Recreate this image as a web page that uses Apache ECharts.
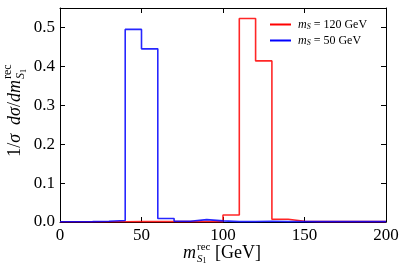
<!DOCTYPE html>
<html><head><meta charset="utf-8">
<script src="https://cdn.jsdelivr.net/npm/echarts@6/dist/echarts.min.js"></script>
<style>html,body{margin:0;padding:0;background:#fff}#c{width:408px;height:276px}</style>
</head><body><div id="c"></div>
<script>
// bin left edges (GeV), bin width 10
const binEdges = [0,10,20,30,40,50,60,70,80,90,100,110,120,130,140,150,160,170,180,190];
const histEnd = 200;
// m_S = 120 GeV (red)
const red120 = [0.0005,0.0005,0.0005,0.0008,0.001,0.001,0.001,0.001,0.001,0.001,0.018,0.523,0.414,0.007,0.002,0.001,0.001,0.001,0.001,0.001];
// m_S = 50 GeV (blue)
const blue50 = [0.0005,0.001,0.002,0.004,0.495,0.445,0.009,0.002,0.006,0.003,0.001,0.001,0.002,0.001,0.001,0.001,0.001,0.001,0.001,0.001];
const xTicks = [0,50,100,150,200];
const yTicks = [0.0,0.1,0.2,0.3,0.4,0.5];

function stepData(vals){
  const d = binEdges.map((e,i)=>[e, vals[i]]);
  d.push([histEnd, vals[vals.length-1]]);
  return d;
}
const FF = 'Liberation Serif';
const chart = echarts.init(document.getElementById('c'), null, {renderer:'canvas'});
const axCommon = {
  axisLine:{show:true, onZero:false, lineStyle:{color:'#000', width:1}},
  axisTick:{show:true, inside:true, length:5, lineStyle:{color:'#000'}},
  splitLine:{show:false}
};
chart.setOption({
  animation:false,
  textStyle:{fontFamily:FF},
  grid:{left:60, right:22, top:8, bottom:54},
  xAxis:[
    Object.assign({type:'value', min:xTicks[0], max:xTicks[xTicks.length-1], interval:50, position:'bottom',
      axisLabel:{color:'#000', fontFamily:FF, fontSize:17, margin:5}}, axCommon),
    Object.assign({type:'value', min:xTicks[0], max:xTicks[xTicks.length-1], interval:50, position:'top',
      axisLabel:{show:false}}, axCommon)
  ],
  yAxis:[
    Object.assign({type:'value', min:0, max:0.55, interval:0.1, position:'left',
      axisLabel:{color:'#000', fontFamily:FF, fontSize:17, margin:5, showMaxLabel:false,
        formatter:v=> (Math.abs(v-0.55)<1e-6 ? '' : v.toFixed(1))}}, axCommon),
    Object.assign({type:'value', min:0, max:0.55, interval:0.1, position:'right',
      axisLabel:{show:false}}, axCommon)
  ],
  legend:{
    orient:'vertical', left:270, top:18, padding:0, itemGap:3, itemWidth:21, itemHeight:2, icon:'rect',
    data:['ms120','ms50'],
    formatter: n => n==='ms120' ? '{i|m}{s|S}{t| = 120 GeV}' : '{i|m}{s|S}{t| = 50 GeV}',
    textStyle:{fontFamily:FF, color:'#000', fontSize:12, lineHeight:13, padding:[0,0,0,2],
      rich:{
        i:{fontStyle:'italic', fontSize:12, fontFamily:FF, lineHeight:13, verticalAlign:'middle'},
        s:{fontStyle:'italic', fontSize:8, fontFamily:FF, lineHeight:8, padding:[5,0,0,0]},
        t:{fontSize:12, fontFamily:FF, lineHeight:13}
      }}
  },
  series:[
    {name:'ms120', type:'line', step:'end', showSymbol:false, symbol:'none', data:stepData(red120),
      itemStyle:{color:'#ff0000'}, lineStyle:{color:'#ff0000', width:1.6, opacity:0.85}},
    {name:'ms50', type:'line', step:'end', showSymbol:false, symbol:'none', data:stepData(blue50),
      itemStyle:{color:'#0000ff'}, lineStyle:{color:'#0000ff', width:1.6, opacity:0.85}}
  ],
  graphic:[
    {type:'group', x:15, y:80, rotation:Math.PI/2, children:[
      {type:'text', x:0, y:0, style:{text:'{n|1/}{i|σ  d}{i|σ}{n|/}{i|dm}', align:'right', verticalAlign:'middle',
        fill:'#000', font:'18px '+FF,
        rich:{n:{fontSize:18, fontFamily:FF}, i:{fontSize:18, fontFamily:FF, fontStyle:'italic'}}}},
      {type:'text', x:1, y:-7, style:{text:'rec', align:'left', verticalAlign:'middle', fill:'#000', font:'12px '+FF}},
      {type:'text', x:1, y:6, style:{text:'{i|S}{n|1}', align:'left', verticalAlign:'middle', fill:'#000', font:'12px '+FF,
        rich:{i:{fontSize:12, fontStyle:'italic', fontFamily:FF}, n:{fontSize:8, fontFamily:FF, padding:[5,0,0,0]}}}}
    ]},
    {type:'text', x:196, y:253, style:{text:'m', align:'right', verticalAlign:'middle', fill:'#000', font:'italic 18px '+FF}},
    {type:'text', x:197, y:247, style:{text:'rec', align:'left', verticalAlign:'middle', fill:'#000', font:'11px '+FF}},
    {type:'text', x:197, y:259, style:{text:'{i|S}{n|1}', align:'left', verticalAlign:'middle', fill:'#000', font:'11px '+FF,
        rich:{i:{fontSize:11, fontStyle:'italic', fontFamily:FF}, n:{fontSize:8, fontFamily:FF, padding:[4,0,0,0]}}}},
    {type:'text', x:215, y:253, style:{text:'[GeV]', align:'left', verticalAlign:'middle', fill:'#000', font:'18px '+FF}}
  ]
});
</script></body></html>
